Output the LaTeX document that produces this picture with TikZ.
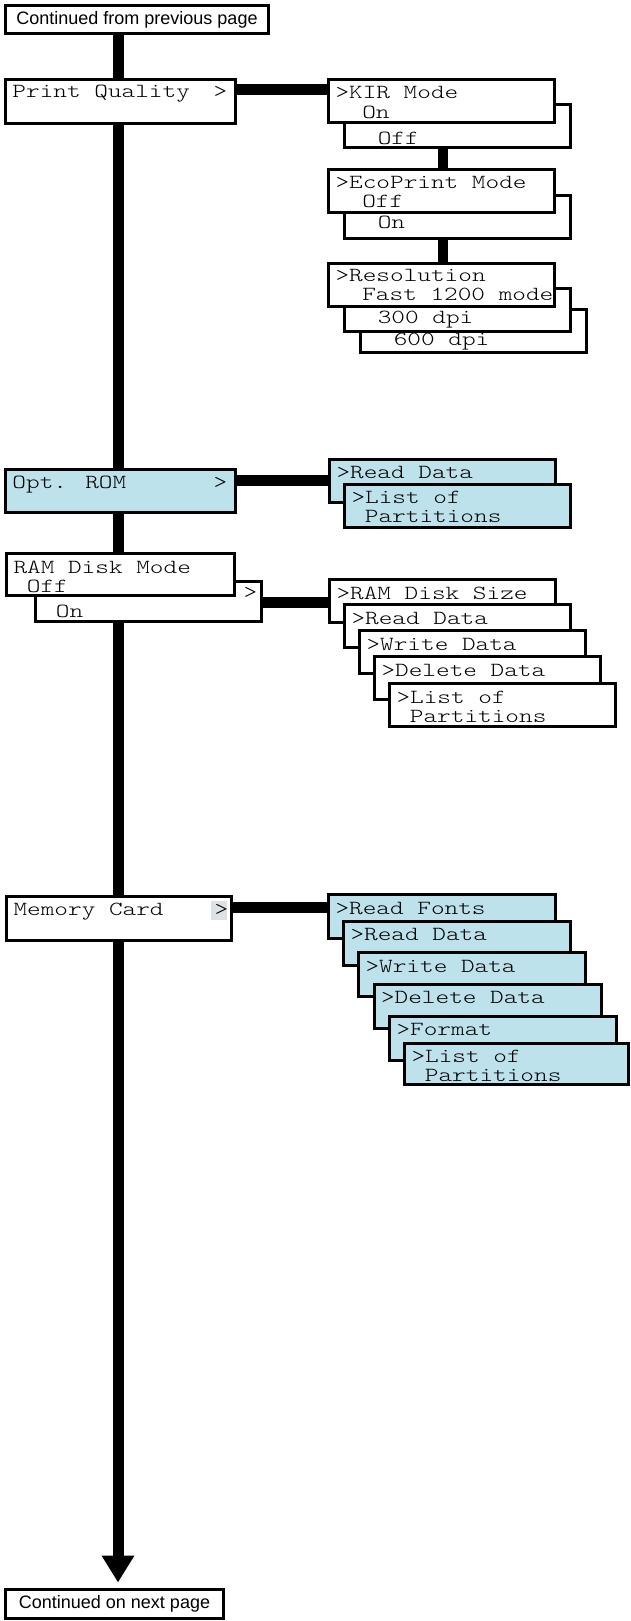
\documentclass[tikz,border=0pt]{standalone}
\usepackage{fontspec}
\usetikzlibrary{arrows.meta}
\newfontfamily\sansf{Liberation Sans}
\newfontfamily\lcdf{lmmonolt10-regular.otf}[FakeStretch=1.3]
\definecolor{lblue}{HTML}{BEE2EC}
\definecolor{hlgray}{HTML}{DCE2E6}
% box: style, name, left, top, width, height
\newcommand\mkbox[6]{\node[#1,minimum width=#5pt,minimum height=#6pt,anchor=north west] (#2) at (#3,#4) {};}
% text: name, box, char index, baseline offset, text
\newcommand\lcdat[5]{\node[lcd] (#1) at ([shift={({7+#3*13.4},#4)}]#2.north west) {#5};}
\begin{document}
\begin{tikzpicture}[x=1pt,y=-1pt,
  wbox/.style={draw=black,line width=3pt,fill=white,inner sep=0pt,outer sep=0pt},
  bbox/.style={wbox,fill=lblue},
  sbox/.style={draw=black,line width=3pt,fill=white,inner sep=0pt,outer sep=0pt,font=\sansf\fontsize{18}{20}\selectfont},
  lcd/.style={anchor=base west,inner sep=0pt,outer sep=0pt,font=\lcdf\fontsize{20}{24}\selectfont},
  mainline/.style={line width=11pt,-{Triangle[width=31pt,length=27pt]},shorten >=7pt},
  hconn/.style={line width=11pt},
  vconn/.style={line width=10pt}]
\useasboundingbox (0,0) rectangle (631,1621);

% top and bottom continuation boxes
\node[sbox,minimum width=263pt,minimum height=28pt,anchor=north west] (top) at (5.5,5.5) {Continued from previous page};
\node[sbox,minimum width=218pt,minimum height=29pt,anchor=north west] (bot) at (5.5,1589.5) {Continued on next page};

% main line
\coordinate (lx) at (118,0);
\draw[mainline] (top.south -| lx) -- (bot.north -| lx);

% ---------- Print Quality ----------
\mkbox{wbox}{pq}{5.5}{80}{229.5}{44}
\lcdat{pq1}{pq}{0}{18}{Print Quality}
\lcdat{pq2}{pq}{15}{18}{>}

\coordinate (y1) at (0,90);
\coordinate (xk) at (443,0);

\mkbox{wbox}{kiroff}{344}{104.5}{226}{43}
\lcdat{kiroffT}{kiroff}{2}{40.5}{Off}
\mkbox{wbox}{kir}{328.5}{79.5}{226}{43}
\lcdat{kir1}{kir}{0}{19.5}{>KIR Mode}
\lcdat{kir2}{kir}{2}{39}{On}

\mkbox{wbox}{ecoon}{344}{196}{226}{43}
\lcdat{ecoonT}{ecoon}{2}{32.5}{On}
\mkbox{wbox}{eco}{328.5}{169.5}{226}{43}
\lcdat{eco1}{eco}{0}{19.5}{>EcoPrint Mode}
\lcdat{eco2}{eco}{2}{38.5}{Off}

\mkbox{wbox}{res600}{360}{309.5}{226}{43}
\lcdat{res600T}{res600}{2}{36}{600 dpi}
\mkbox{wbox}{res300}{344}{288}{226}{43}
\lcdat{res300T}{res300}{2}{35}{300 dpi}
\mkbox{wbox}{res}{328.5}{263.5}{226}{43}
\lcdat{res1}{res}{0}{18}{>Resolution}
\lcdat{res2}{res}{2}{36.5}{Fast 1200 mode}

% ---------- Opt. ROM ----------
\mkbox{bbox}{opt}{5.5}{469.5}{229.5}{43}
\lcdat{opt1}{opt}{0}{18.5}{Opt. ROM}
\lcdat{opt2}{opt}{15}{18.5}{>}
\coordinate (y2) at (0,480);

\mkbox{bbox}{optrd}{329.5}{459.5}{226}{43}
\lcdat{optrdT}{optrd}{0}{19}{>Read Data}
\mkbox{bbox}{optlp}{344.5}{484.5}{226}{43}
\lcdat{optlp1}{optlp}{0}{19}{>List of}
\lcdat{optlp2}{optlp}{1}{38}{Partitions}

% ---------- RAM Disk Mode ----------
\mkbox{wbox}{ramon}{35.5}{581.5}{226}{40}
\lcdat{ramonT}{ramon}{1}{35.5}{On}
\lcdat{ramgt}{ramon}{15}{16.5}{>}
\mkbox{wbox}{ram}{6.5}{553.5}{228}{42}
\lcdat{ram1}{ram}{0}{19.5}{RAM Disk Mode}
\lcdat{ram2}{ram}{1}{38.5}{Off}
\coordinate (y3) at (0,602.5);

\mkbox{wbox}{ramsize}{329.5}{579.5}{226}{43}
\lcdat{ramsizeT}{ramsize}{0}{19.5}{>RAM Disk Size}
\mkbox{wbox}{ramrd}{344.5}{604.5}{226}{43}
\lcdat{ramrdT}{ramrd}{0}{19.5}{>Read Data}
\mkbox{wbox}{ramwd}{359.5}{630.5}{226}{43}
\lcdat{ramwdT}{ramwd}{0}{19.5}{>Write Data}
\mkbox{wbox}{ramdd}{374.5}{656.5}{226}{43}
\lcdat{ramddT}{ramdd}{0}{19.5}{>Delete Data}
\mkbox{wbox}{ramlp}{389.5}{683.5}{226}{43}
\lcdat{ramlp1}{ramlp}{0}{19.5}{>List of}
\lcdat{ramlp2}{ramlp}{1}{38.5}{Partitions}

% ---------- Memory Card ----------
\mkbox{wbox}{mem}{6.5}{896.5}{225}{44}
\node[fill=hlgray,inner sep=0pt,outer sep=0pt,minimum width=16pt,minimum height=19pt,anchor=north west] (memhl) at (211,901) {};
\lcdat{mem1}{mem}{0}{18.5}{Memory Card}
\lcdat{mem2}{mem}{15}{18.5}{>}
\coordinate (y4) at (0,907);

\mkbox{bbox}{memrf}{328.5}{894.5}{227}{44}
\lcdat{memrfT}{memrf}{0}{20}{>Read Fonts}
\mkbox{bbox}{memrd}{343.5}{921.5}{227}{44}
\lcdat{memrdT}{memrd}{0}{19}{>Read Data}
\mkbox{bbox}{memwd}{358.5}{952.5}{227}{44}
\lcdat{memwdT}{memwd}{0}{19.5}{>Write Data}
\mkbox{bbox}{memdd}{374}{984.5}{227}{44}
\lcdat{memddT}{memdd}{0}{19}{>Delete Data}
\mkbox{bbox}{memfo}{389.5}{1016.5}{227}{44}
\lcdat{memfoT}{memfo}{0}{19}{>Format}
\mkbox{bbox}{memlp}{404.5}{1043.5}{224}{41}
\lcdat{memlp1}{memlp}{0}{19}{>List of}
\lcdat{memlp2}{memlp}{1}{38}{Partitions}

% ---------- connectors ----------
\draw[hconn] (pq.east |- y1) -- (kir.west |- y1);
\draw[vconn] (kiroff.south -| xk) -- (eco.north -| xk);
\draw[vconn] (ecoon.south -| xk) -- (res.north -| xk);
\draw[hconn] (opt.east |- y2) -- (optrd.west |- y2);
\draw[hconn] (ramon.east |- y3) -- (ramsize.west |- y3);
\draw[hconn] (mem.east |- y4) -- (memrf.west |- y4);
\end{tikzpicture}
\end{document}
